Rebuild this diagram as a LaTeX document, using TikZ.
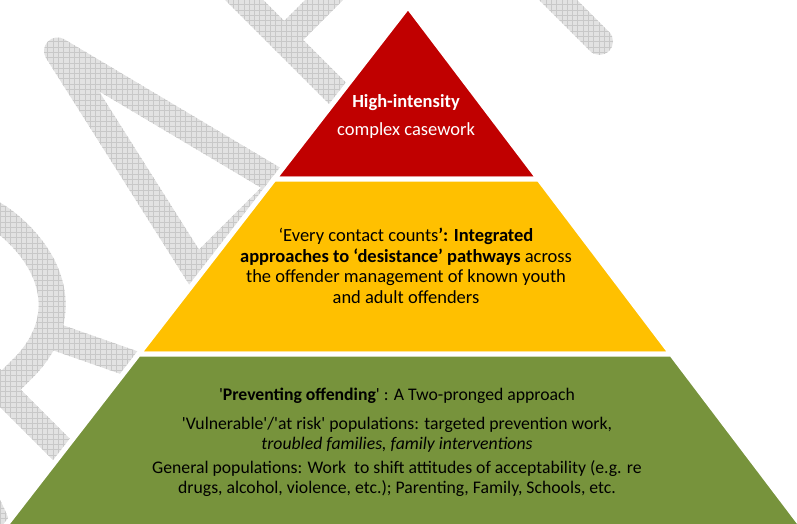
\documentclass[tikz,border=0pt]{standalone}
\usepackage{fontspec}
\setmainfont{Carlito}
\usepackage{xcolor}
\definecolor{pyrred}{RGB}{192,0,0}
\definecolor{pyryellow}{RGB}{255,192,0}
\definecolor{pyrgreen}{RGB}{119,147,60}
\definecolor{wmbase}{RGB}{226,226,226}
\definecolor{wmgrid}{RGB}{200,200,200}
\usetikzlibrary{positioning, fadings}
\newcommand{\sq}{\textquotesingle}

\begin{document}
\begin{tikzpicture}[
    % GLOBAL CFG
    x=1pt, y=1pt,
    font=\fontsize{18.5}{20.5}\selectfont,
    % Styles
    tier/.style={% For the layers of the pyramid
        draw=white,
        line width=5pt,
        line join=miter,
        },
    tiertext/.style={% For the texts inside a layer
        align=center,
        inner sep=0pt,
        },
    wmstroke/.style={% For the letters of the watermark
        transparent!0,
        line width=27pt,
        line cap=round,
        line join=round,
        },
    wmfade/.style={% Puts the watermark fading over the whole picture
        path fading=draftmark,
        fit fading=false,
        fading transform={shift={(398.5,262)}},
        },
    ]

% The watermark letters, used as a fading
\begin{tikzfadingfrompicture}[name=draftmark, x=1pt, y=1pt]
    \useasboundingbox (0,0) rectangle (797,524);
    \begin{scope}[shift={(136,0)}, rotate=45]
        % D
        \draw [wmstroke] (-300,13.5) -- (-300,382.5) -- (-225,382.5)
            .. controls (-130,382.5) and (-80,300) .. (-80,198)
            .. controls (-80,96) and (-130,13.5) .. (-225,13.5) -- cycle;
        % R
        \draw [wmstroke] (0,13.5) -- (0,382.5) -- (30,382.5)
            .. controls (90,382.5) and (122,345) .. (122,288)
            .. controls (122,230) and (90,190) .. (30,190) -- (0,190);
        \draw [wmstroke] (75,190) -- (160,13.5);
        % A
        \draw [wmstroke] (191,0) -- (279,390) -- (378,0);
        \draw [wmstroke] (222,136) -- (345,136);
        % F
        \draw [wmstroke] (640,382.5) -- (447,382.5) -- (447,13.5);
        \draw [wmstroke] (447,237.5) -- (600,237.5);
        % T
        \draw [wmstroke] (530,382.5) -- (810,382.5);
        \draw [wmstroke] (669,382.5) -- (669,13.5);
    \end{scope}
\end{tikzfadingfrompicture}

\useasboundingbox (0,0) rectangle (797,524);
\clip (0,0) rectangle (797,524);

% Draw the watermark: grey with a fine grid
    \fill [wmbase, wmfade] (0,0) rectangle (797,524);
    \draw [wmgrid, line width=0.6pt, wmfade] (0,0) grid [step=5.3pt] (797,524);

% Corners of the layers
    \coordinate (apex) at (408,517.5);
    \coordinate (redL) at (274.1,344.8);
    \coordinate (redR) at (538.9,344.8);
    \coordinate (yelL) at (138.5,169.8);
    \coordinate (yelR) at (671.5,169.8);
    \coordinate (grnL) at (2.2,-6);
    \coordinate (grnR) at (804.8,-6);

% Draw the layers
    \filldraw [tier, fill=pyrred] (apex) -- (redL) -- (redR) -- cycle;
    \filldraw [tier, fill=pyryellow] (redL) -- (yelL) -- (yelR) -- (redR) -- cycle;
    \filldraw [tier, fill=pyrgreen] (yelL) -- (grnL) -- (grnR) -- (yelR) -- cycle;

% Texts of the layers
    \node [tiertext, text=white, font=\fontsize{18.5}{21}\selectfont] (hightext) at (406,407)
        {\textbf{High-intensity}\\[7pt] complex casework};
    \node [tiertext] (desisttext) at (406,258)
        {‘Every contact counts\textbf{’: Integrated}\\
         \textbf{approaches to ‘desistance’ pathways} across\\
         the offender management of known youth\\
         and adult offenders};
    \node [tiertext, font=\fontsize{17.7}{19.5}\selectfont] (preventtext) at (397,82)
        {\sq\textbf{Preventing offending}\sq\ : A Two-pronged approach\\[10pt]
         \sq Vulnerable\sq/\sq at risk\sq\ populations: targeted prevention work,\\
         \textit{troubled families, family interventions}\\[5pt]
         General populations: Work\ \ to shift attitudes of acceptability (e.g. re\\
         drugs, alcohol, violence, etc.); Parenting, Family, Schools, etc.};

\end{tikzpicture}
\end{document}
